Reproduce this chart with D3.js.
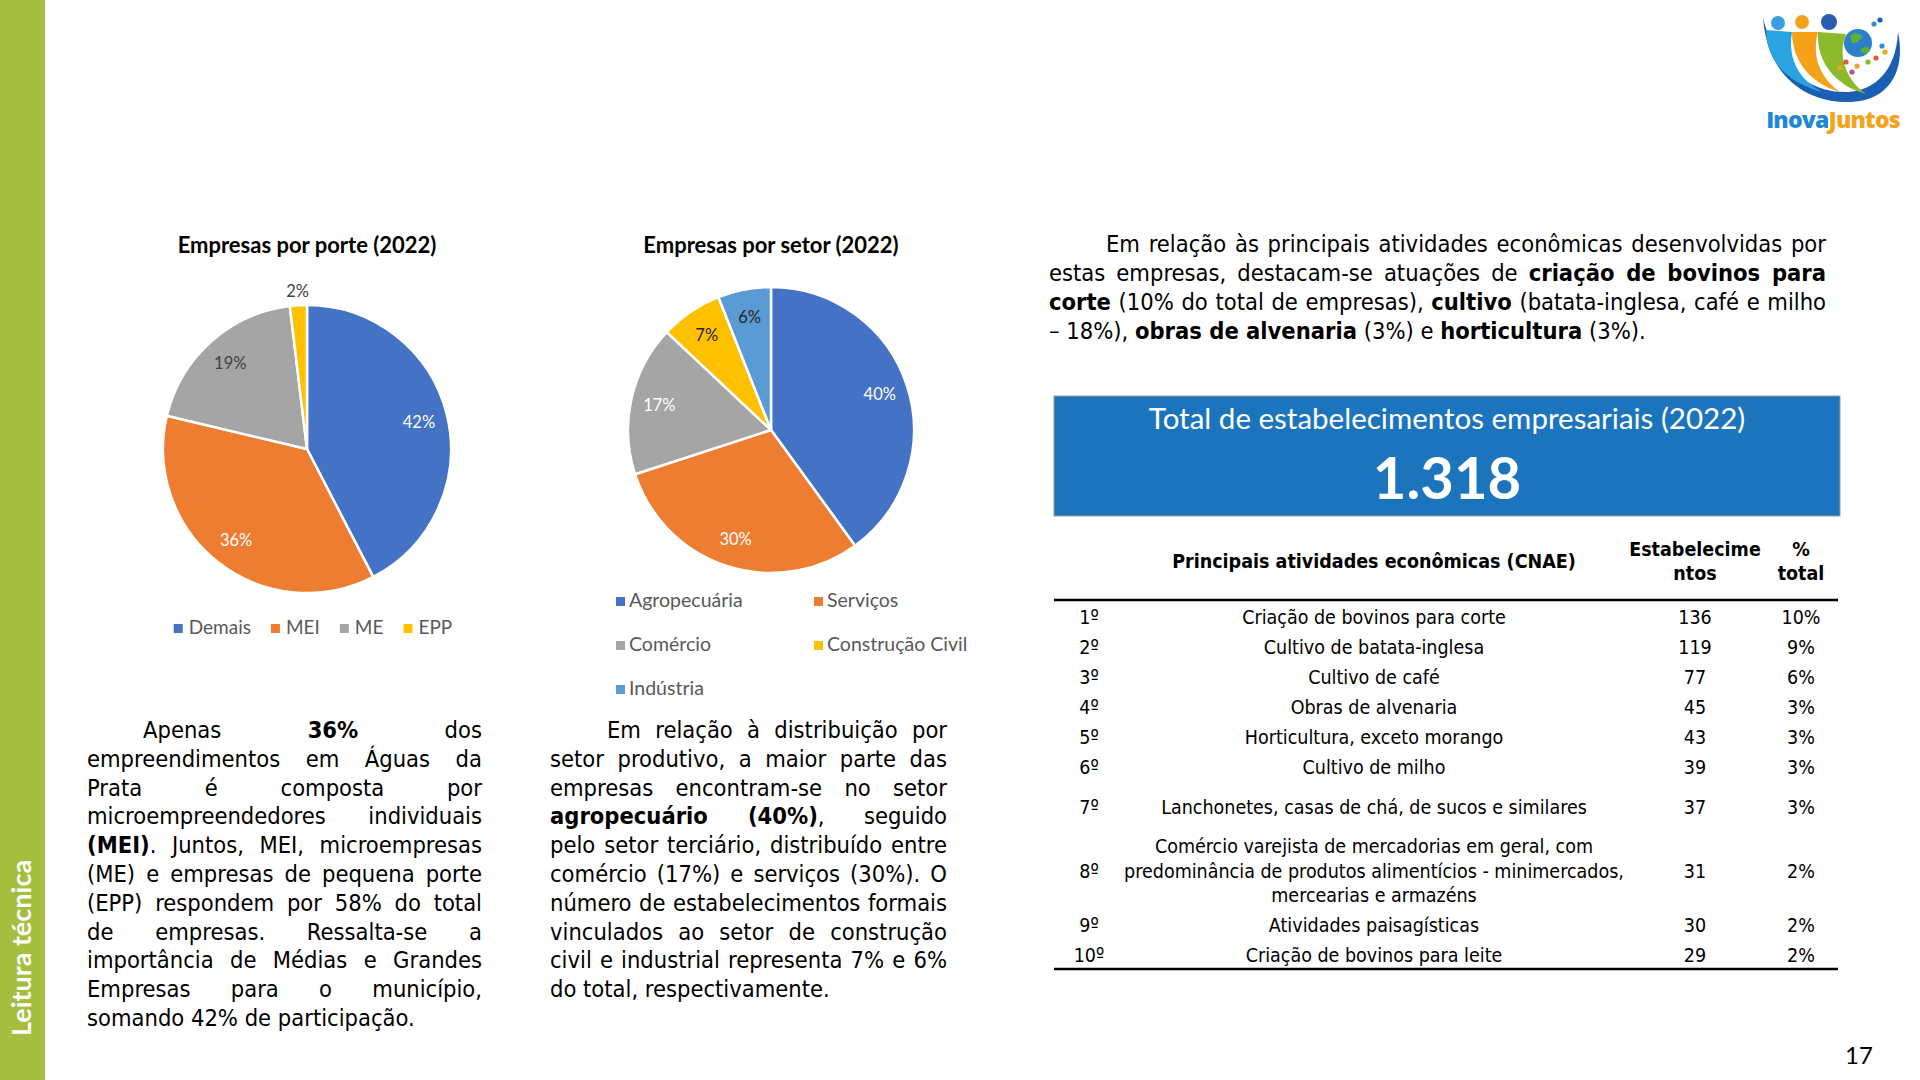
<!DOCTYPE html>
<html>
<head>
<meta charset="utf-8">
<script src="https://cdn.jsdelivr.net/npm/d3@7"></script>
<style>
    html, body { margin: 0; padding: 0; background: #fff; }
    svg { display: block; }
    .body-text { font-family: "DejaVu Sans Condensed", "DejaVu Sans", sans-serif; font-stretch: condensed; }
    .cal { font-family: Lato, "Open Sans", sans-serif; }
</style>
</head>
<body>
<svg id="page" width="1920" height="1080"></svg>
<script>
// ---- data ----
const porteLabels = ['Demais', 'MEI', 'ME', 'EPP'];
const porteValues = [42.4, 36.3, 19.4, 1.9];

const setorLabels = ['Agropecuária', 'Serviços', 'Comércio', 'Construção Civil', 'Indústria'];
const setorValues = [40, 30, 17, 7, 6];

const ranks = ['1º', '2º', '3º', '4º', '5º', '6º', '7º', '8º', '9º', '10º'];
const activities = [
    'Criação de bovinos para corte',
    'Cultivo de batata-inglesa',
    'Cultivo de café',
    'Obras de alvenaria',
    'Horticultura, exceto morango',
    'Cultivo de milho',
    'Lanchonetes, casas de chá, de sucos e similares',
    'Comércio varejista de mercadorias em geral, com|predominância de produtos alimentícios - minimercados,|mercearias e armazéns',
    'Atividades paisagísticas',
    'Criação de bovinos para leite'
];
const counts = [136, 119, 77, 45, 43, 39, 37, 31, 30, 29];
const shares = [10, 9, 6, 3, 3, 3, 3, 2, 2, 2];
const totalEstab = 1318;

const textPorte = [
    'Apenas **36%** dos',
    'empreendimentos em Águas da',
    'Prata é composta por',
    'microempreendedores individuais',
    '**(MEI)**. Juntos, MEI, microempresas',
    '(ME) e empresas de pequena porte',
    '(EPP) respondem por 58% do total',
    'de empresas. Ressalta-se a',
    'importância de Médias e Grandes',
    'Empresas para o município,',
    'somando 42% de participação.'
];
const textSetor = [
    'Em relação à distribuição por',
    'setor produtivo, a maior parte das',
    'empresas encontram-se no setor',
    '**agropecuário (40%)**, seguido',
    'pelo setor terciário, distribuído entre',
    'comércio (17%) e serviços (30%). O',
    'número de estabelecimentos formais',
    'vinculados ao setor de construção',
    'civil e industrial representa 7% e 6%',
    'do total, respectivamente.'
];
const textAtiv = [
    'Em relação às principais atividades econômicas desenvolvidas por',
    'estas empresas, destacam-se atuações de **criação de bovinos para**',
    '**corte** (10% do total de empresas), **cultivo** (batata-inglesa, café e milho',
    '– 18%), **obras de alvenaria** (3%) e **horticultura** (3%).'
];

// ---- styles ----
const porteColors = ['#4472C4', '#ED7D31', '#A5A5A5', '#FFC000'];
const porteLabelFill = ['#fff', '#fff', '#404040', '#404040'];
const setorColors = ['#4472C4', '#ED7D31', '#A5A5A5', '#FFC000', '#5B9BD5'];
const setorLabelFill = ['#fff', '#fff', '#fff', '#262626', '#262626'];

const svg = d3.select('#page');

// left band
svg.append('rect')
    .attr('x', 0).attr('y', 0)
    .attr('width', 45).attr('height', 1080)
    .attr('fill', '#A6BE40');

svg.append('text')
    .attr('class', 'cal')
    .attr('transform', 'translate(31, 948) rotate(-90)')
    .attr('text-anchor', 'middle')
    .attr('fill', '#fff')
    .style('font-size', '27px')
    .style('font-weight', 700)
    .text('Leitura técnica');

svg.append('text')
    .attr('class', 'cal')
    .attr('x', 1859).attr('y', 1064)
    .attr('text-anchor', 'middle')
    .style('font-size', '24px')
    .attr('fill', '#000')
    .text('17');

// ---- logo ----
const logo = svg.append('g').attr('class', 'logo');
logo.append('path')
    .attr('d', 'M1763,18 C1768,80 1810,104 1852,102 C1890,100 1906,70 1898,32 C1896,70 1876,90 1848,92 C1810,94 1775,66 1763,18 Z')
    .attr('fill', '#1A5FB4');
logo.append('path')
    .attr('d', 'M1766,30 C1766,62 1790,84 1822,92 C1796,78 1788,56 1792,32 Z')
    .attr('fill', '#2AA3E0');
logo.append('path')
    .attr('d', 'M1792,32 C1792,62 1812,84 1840,92 C1818,76 1812,54 1818,32 Z')
    .attr('fill', '#F5A21B');
logo.append('path')
    .attr('d', 'M1818,32 C1816,62 1836,86 1866,94 C1844,78 1838,54 1846,34 Z')
    .attr('fill', '#8DBA2D');
[[1778, 23, 7, '#3B9EE0'], [1802, 22, 7, '#F5A21B'], [1829, 22, 8, '#2A5DB0']].forEach(h => {
    logo.append('circle').attr('cx', h[0]).attr('cy', h[1]).attr('r', h[2]).attr('fill', h[3]);
});
logo.append('circle').attr('cx', 1858).attr('cy', 43).attr('r', 14).attr('fill', '#2D7FC9');
logo.append('path')
    .attr('d', 'M1850,36 q6,-6 12,0 q-3,8 -10,7 Z M1862,48 q6,-3 8,3 q-6,5 -10,0 Z')
    .attr('fill', '#5DAE3A');
[[1846, 62, '#E5543B'], [1857, 66, '#F5A21B'], [1868, 62, '#8DBA2D'], [1876, 58, '#E5543B'], [1840, 68, '#F5A21B'], [1852, 72, '#C04BA0'], [1882, 46, '#2E8FD8'], [1874, 24, '#2E8FD8'], [1880, 20, '#1A5FB4'], [1885, 52, '#F5A21B']]
    .forEach(p => logo.append('circle').attr('cx', p[0]).attr('cy', p[1]).attr('r', 2.6).attr('fill', p[2]));
const logoText = logo.append('text')
    .attr('x', 1833).attr('y', 128)
    .attr('text-anchor', 'middle')
    .style('font-family', '"Open Sans", sans-serif')
    .style('font-weight', 800)
    .style('font-size', '23px')
    .attr('letter-spacing', -0.8);
logoText.append('tspan').attr('fill', '#1E88D6').text('Inova');
logoText.append('tspan').attr('fill', '#F7A21B').text('Juntos');

// ---- pies ----
const drawPie = (cfg) => {
    const g = svg.append('g').attr('transform', `translate(${cfg.cx},${cfg.cy})`);
    const total = d3.sum(cfg.values);
    const pie = d3.pie().sort(null).value(d => d);
    const arcs = pie(cfg.values);
    const arc = d3.arc().innerRadius(0).outerRadius(cfg.r);
    const labelArc = d3.arc().innerRadius(cfg.r * 0.8).outerRadius(cfg.r * 0.8);
    const outArc = d3.arc().innerRadius(cfg.r * 1.1).outerRadius(cfg.r * 1.1);

    svg.append('text')
        .attr('class', 'cal')
        .attr('x', cfg.cx).attr('y', cfg.titleY)
        .attr('text-anchor', 'middle')
        .style('font-size', '22px')
        .style('font-weight', 700)
        .attr('fill', '#000')
        .text(cfg.title);

    g.selectAll('.slice')
        .data(arcs)
        .join('path')
            .classed('slice', true)
            .attr('d', arc)
            .attr('fill', (d, i) => cfg.colors[i])
            .attr('stroke', '#fff')
            .attr('stroke-width', 2.5)
            .attr('stroke-linejoin', 'round');

    g.selectAll('.plabel')
        .data(arcs)
        .join('text')
            .classed('plabel', true)
            .classed('cal', true)
            .attr('transform', d => {
                const p = (d.data / total) < 0.03 ? outArc.centroid(d) : labelArc.centroid(d);
                return `translate(${p[0]},${p[1]})`;
            })
            .attr('text-anchor', 'middle')
            .attr('dy', '0.35em')
            .style('font-size', '16.5px')
            .attr('fill', (d, i) => cfg.labelFill[i])
            .text(d => d3.format('.0%')(d.data / total));
};

drawPie({
    cx: 307, cy: 449, r: 144, titleY: 253,
    title: 'Empresas por porte (2022)',
    values: porteValues, colors: porteColors, labelFill: porteLabelFill
});
drawPie({
    cx: 771, cy: 430, r: 143, titleY: 253,
    title: 'Empresas por setor (2022)',
    values: setorValues, colors: setorColors, labelFill: setorLabelFill
});

// legend porte: one row, centred under the pie
const legPorte = svg.append('g');
let lx = 0;
porteLabels.forEach((lab, i) => {
    const item = legPorte.append('g').attr('transform', `translate(${lx},0)`);
    item.append('rect').attr('x', 0).attr('y', -10).attr('width', 9).attr('height', 9).attr('fill', porteColors[i]);
    const t = item.append('text').attr('class', 'cal')
        .attr('x', 15).attr('y', 0)
        .style('font-size', '19px')
        .attr('fill', '#595959')
        .text(lab);
    lx += 15 + t.node().getComputedTextLength() + 20;
});
legPorte.attr('transform', `translate(${313 - (lx - 20) / 2},634)`);

// legend setor: two columns
const legSetor = svg.append('g').attr('transform', 'translate(616,607)');
legSetor.selectAll('g')
    .data(setorLabels)
    .join('g')
        .attr('transform', (d, i) => `translate(${(i % 2) * 198},${Math.floor(i / 2) * 44})`)
        .each(function(d, i) {
            const item = d3.select(this);
            item.append('rect').attr('x', 0).attr('y', -10).attr('width', 9).attr('height', 9).attr('fill', setorColors[i]);
            item.append('text').attr('class', 'cal')
                .attr('x', 13).attr('y', 0)
                .style('font-size', '19.5px')
                .attr('fill', '#595959')
                .text(d);
        });

// ---- justified paragraphs ----
const paragraph = (lines, x, y0, width, lh, indent, size) => {
    lines.forEach((ln, i) => {
        const ind = i === 0 ? indent : 0;
        const t = svg.append('text')
            .attr('class', 'body-text')
            .attr('x', x + ind)
            .attr('y', y0 + i * lh)
            .style('font-size', size + 'px')
            .attr('fill', '#000');
        ln.split('**').forEach((part, j) => {
            if (part) t.append('tspan').attr('font-weight', j % 2 ? 'bold' : null).text(part);
        });
        if (i < lines.length - 1) {
            const w = t.node().getComputedTextLength();
            const gaps = (ln.replace(/\*\*/g, '').trim().match(/ +/g) || []).length;
            if (gaps) t.attr('word-spacing', (width - ind - w) / gaps);
        }
    });
};

paragraph(textPorte, 87, 738, 395, 28.8, 56, 23.5);
paragraph(textSetor, 550, 738, 397, 28.8, 57, 23.5);
paragraph(textAtiv, 1049, 252, 777, 29, 57, 23.5);

// ---- total box ----
svg.append('rect')
    .attr('x', 1054).attr('y', 396)
    .attr('width', 786).attr('height', 120)
    .attr('fill', '#1C75BC')
    .attr('stroke', '#9A9A9A')
    .attr('stroke-width', 1);
svg.append('text')
    .attr('class', 'cal')
    .attr('x', 1447).attr('y', 429)
    .attr('text-anchor', 'middle')
    .attr('fill', '#fff')
    .style('font-size', '29.5px')
    .text('Total de estabelecimentos empresariais (2022)');
svg.append('text')
    .attr('class', 'cal')
    .attr('x', 1447).attr('y', 499)
    .attr('text-anchor', 'middle')
    .attr('fill', '#fff')
    .style('font-size', '58px')
    .style('font-weight', 700)
    .text(d3.format(',')(totalEstab).replace(',', '.'));

// ---- table ----
const colRank = 1089, colAct = 1374, colCount = 1695, colShare = 1801;
const fs = 19.5;
const tbl = svg.append('g').attr('class', 'body-text');

const head = (txt, x, y) => tbl.append('text')
    .attr('x', x).attr('y', y)
    .attr('text-anchor', 'middle')
    .style('font-size', fs + 'px')
    .style('font-weight', 700)
    .text(txt);
head('Principais atividades econômicas (CNAE)', colAct, 568);
head('Estabelecime', colCount, 556);
head('ntos', colCount, 580);
head('%', colShare, 556);
head('total', colShare, 580);

tbl.append('line').attr('x1', 1054).attr('x2', 1838).attr('y1', 600).attr('y2', 600)
    .attr('stroke', '#000').attr('stroke-width', 2.5);

const rowH = activities.map(a => a.includes('|') ? 78 : (a.length > 40 ? 50 : 30));
let rowTop = 602;
activities.forEach((a, i) => {
    const cy = rowTop + rowH[i] / 2;
    rowTop += rowH[i];
    const cell = (txt, x) => tbl.append('text')
        .attr('x', x).attr('y', cy + 6.5)
        .attr('text-anchor', 'middle')
        .style('font-size', fs + 'px')
        .attr('fill', '#000')
        .text(txt);
    cell(ranks[i], colRank);
    cell(counts[i], colCount);
    cell(shares[i] + '%', colShare);
    const parts = a.split('|');
    parts.forEach((p, k) => {
        tbl.append('text')
            .attr('x', colAct)
            .attr('y', cy + 6.5 + (k - (parts.length - 1) / 2) * 24.5)
            .attr('text-anchor', 'middle')
            .style('font-size', fs + 'px')
            .attr('fill', '#000')
            .text(p);
    });
});

tbl.append('line').attr('x1', 1054).attr('x2', 1838).attr('y1', 969).attr('y2', 969)
    .attr('stroke', '#000').attr('stroke-width', 2.5);
</script>
</body>
</html>
